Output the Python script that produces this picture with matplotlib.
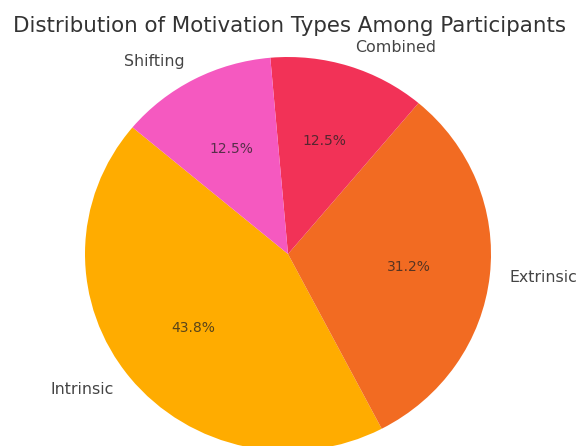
import matplotlib.pyplot as plt

# Motivation types data
labels = ['Intrinsic', 'Extrinsic', 'Combined', 'Shifting']
counts = [7, 5, 2, 2]
colors = ['#FFAC00', '#F26B22', '#F23257', '#F559C0']

fig = plt.figure(figsize=(5.79, 4.46), dpi=100)
# pie is slightly wider than tall in the reference
ax = fig.add_axes([85 / 579, -5 / 446, 406 / 579, 394 / 446])

wedges, texts, autotexts = ax.pie(counts, labels=labels, colors=colors,
                                  autopct='%1.1f%%', startangle=140,
                                  textprops={'fontsize': 11.4, 'color': '#444444'})
for t in autotexts:
    t.set_fontsize(10)
    t.set_color('#222222')
    t.set_alpha(0.75)

ax.set_xlim(-1, 1)
ax.set_ylim(-1, 1)
ax.set_aspect('auto')

fig.text(0.5, 1 - 32 / 446, 'Distribution of Motivation Types Among Participants',
         ha='center', va='baseline', fontsize=15.4, color='#333333')

fig.savefig('out.png', dpi=100)
